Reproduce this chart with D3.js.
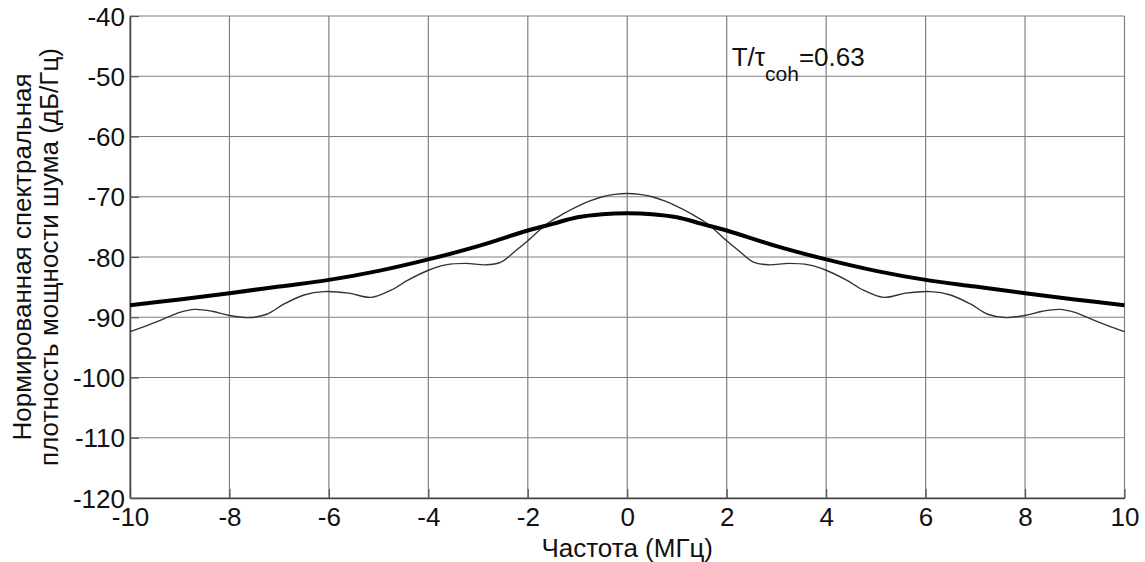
<!DOCTYPE html>
<html>
<head>
<meta charset="utf-8">
<script src="https://cdn.jsdelivr.net/npm/d3@7"></script>
<style>
  body { margin: 0; background: #fff; }
  text { font-family: "Liberation Sans", Arial, sans-serif; fill: #111; }
</style>
</head>
<body>
<svg id="chart" width="1145" height="562"></svg>
<script>
// frequency (MHz) and level (dB/Hz)
const thinFreq = [-10, -9.7, -9.3, -9.0, -8.7, -8.35, -8.0, -7.6, -7.25, -6.9, -6.5, -6.1,
  -5.6, -5.15, -4.75, -4.4, -4.0, -3.65, -3.25, -2.85, -2.55, -2.25, -2.0, -1.6, -1.3, -1.0, -0.75, -0.5, -0.25, 0,
  0.25, 0.5, 0.75, 1.0, 1.3, 1.6, 2.0, 2.25, 2.55, 2.85, 3.25, 3.65, 4.0, 4.4, 4.75, 5.15, 5.6,
  6.1, 6.5, 6.9, 7.25, 7.6, 8.0, 8.35, 8.7, 9.0, 9.3, 9.7, 10];
const thinLevel = [-92.4, -91.5, -90.2, -89.2, -88.7, -89.0, -89.7, -90.05, -89.5, -87.8, -86.3, -85.75,
  -86.0, -86.7, -85.5, -83.8, -82.2, -81.3, -81.05, -81.3, -80.9, -79.0, -77.3, -74.4, -72.9, -71.6, -70.7, -70.0, -69.6, -69.45,
  -69.6, -70.0, -70.7, -71.6, -72.9, -74.4, -77.3, -79.0, -80.9, -81.3, -81.05, -81.3, -82.2, -83.8, -85.5, -86.7, -86.0,
  -85.75, -86.3, -87.8, -89.5, -90.05, -89.7, -89.0, -88.7, -89.2, -90.2, -91.5, -92.4];

const thickFreq = [-10, -9, -8, -7, -6, -5, -4, -3, -2, -1.5, -1, -0.5, 0,
  0.5, 1, 1.5, 2, 3, 4, 5, 6, 7, 8, 9, 10];
const thickLevel = [-88.0, -87.05, -86.0, -84.9, -83.8, -82.3, -80.4, -78.2, -75.6, -74.5, -73.4, -72.9, -72.75,
  -72.9, -73.4, -74.5, -75.6, -78.2, -80.4, -82.3, -83.8, -84.9, -86.0, -87.05, -88.0];

const xTicks = [-10, -8, -6, -4, -2, 0, 2, 4, 6, 8, 10];
const yTicks = [-40, -50, -60, -70, -80, -90, -100, -110, -120];

const svg = d3.select("#chart");
const margin = {left: 130, top: 16, right: 20.5, bottom: 64};
const width = 1145 - margin.left - margin.right;
const height = 562 - margin.top - margin.bottom;

const x = d3.scaleLinear().domain([-10, 10]).range([0, width]);
const y = d3.scaleLinear().domain([-120, -40]).range([height, 0]);

const g = svg.append("g").attr("transform", "translate(" + margin.left + "," + margin.top + ")");

// grid
g.append("g").selectAll("line").data(xTicks).enter().append("line")
  .attr("x1", d => x(d)).attr("x2", d => x(d))
  .attr("y1", 0).attr("y2", height)
  .attr("stroke", "#808080").attr("stroke-width", 1.2);
g.append("g").selectAll("line").data(yTicks).enter().append("line")
  .attr("x1", 0).attr("x2", width)
  .attr("y1", d => y(d)).attr("y2", d => y(d))
  .attr("stroke", "#808080").attr("stroke-width", 1.2);

// axes (plain hyphen minus like the original)
const fmt = d => String(d);
const xAxis = d3.axisBottom(x).tickValues(xTicks).tickFormat(fmt).tickSizeInner(-9).tickSizeOuter(0).tickPadding(10);
const yAxis = d3.axisLeft(y).tickValues(yTicks).tickFormat(fmt).tickSizeInner(-9).tickSizeOuter(0).tickPadding(5);

const xg = g.append("g").attr("transform", "translate(0," + height + ")").call(xAxis);
const yg = g.append("g").call(yAxis);
[xg, yg].forEach(a => {
  a.select(".domain").attr("stroke", "#444").attr("stroke-width", 1.5);
  a.selectAll(".tick line").attr("stroke", "#555").attr("stroke-width", 1.2);
  a.selectAll(".tick text").style("font-size", "26px").attr("fill", "#111");
});
yg.selectAll(".tick text").attr("dy", "0.35em");

// curves
const line = d3.line().x(d => x(d[0])).y(d => y(d[1])).curve(d3.curveCatmullRom);

g.append("path")
  .datum(d3.zip(thinFreq, thinLevel))
  .attr("d", line)
  .attr("fill", "none").attr("stroke", "#333").attr("stroke-width", 1.4);

g.append("path")
  .datum(d3.zip(thickFreq, thickLevel))
  .attr("d", line)
  .attr("fill", "none").attr("stroke", "#000").attr("stroke-width", 4);

// annotation
const ann = g.append("text")
  .attr("x", x(2.1)).attr("y", y(-48.3))
  .style("font-size", "26px");
ann.append("tspan").text("T/τ");
ann.append("tspan").attr("dy", 15).style("font-size", "21px").text("coh");
ann.append("tspan").attr("dy", -15).text("=0.63");

// axis titles
svg.append("text")
  .attr("text-anchor", "middle")
  .attr("x", margin.left + x(0)).attr("y", 557)
  .style("font-size", "26px")
  .text("Частота (МГц)");

const yl = svg.append("text")
  .attr("text-anchor", "middle")
  .attr("transform", "translate(31," + (margin.top + height / 2) + ")rotate(-90)")
  .style("font-size", "26px");
yl.append("tspan").attr("x", 0).attr("y", 0).text("Нормированная спектральная");
yl.append("tspan").attr("x", 0).attr("y", 27).text("плотность мощности шума (дБ/Гц)");
</script>
</body>
</html>
